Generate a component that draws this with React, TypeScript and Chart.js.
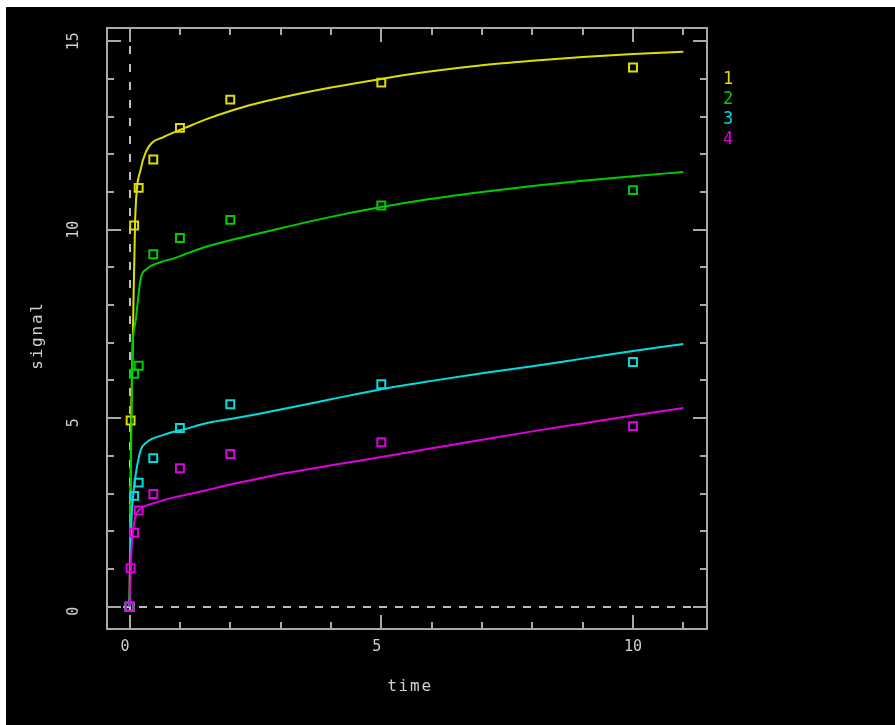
import React, { useEffect, useRef } from "react";
import { Chart, registerables } from "chart.js";

Chart.register(...registerables);

// ---------- data ----------
const seriesNames = ["1", "2", "3", "4"];
const seriesColors = ["#dede00", "#00cd00", "#00dede", "#de00de"];

const obsTime = [0, 0.02, 0.09, 0.18, 0.47, 1, 2, 5, 10];
const obs1 = [0, 4.94, 10.11, 11.11, 11.86, 12.7, 13.45, 13.9, 14.3];
const obs2 = [0, null, 6.18, 6.39, 9.35, 9.78, 10.26, 10.64, 11.05];
const obs3 = [0, null, 2.94, 3.29, 3.94, 4.74, 5.37, 5.9, 6.49];
const obs4 = [0, 1.02, 1.96, 2.55, 2.99, 3.67, 4.05, 4.36, 4.79];

const fitTime = [0, 0.03, 0.06, 0.11, 0.22, 0.33, 0.44, 0.66, 0.88, 1.1, 1.5, 2, 2.5, 3, 4, 5, 6, 7, 8, 9, 10, 11];
const fit1 = [0, 4.9, 6.8, 10.26, 11.6, 12.08, 12.3, 12.45, 12.58, 12.7, 12.92, 13.15, 13.34, 13.5, 13.77, 14.0, 14.2, 14.36, 14.48, 14.58, 14.66, 14.72];
const fit2 = [0, 4.2, 6.9, 7.5, 8.7, 8.95, 9.05, 9.16, 9.24, 9.35, 9.54, 9.72, 9.88, 10.04, 10.34, 10.6, 10.82, 11.0, 11.16, 11.3, 11.42, 11.53];
const fit3 = [0, 2.1, 2.8, 3.4, 4.15, 4.35, 4.45, 4.55, 4.64, 4.71, 4.86, 4.98, 5.1, 5.23, 5.5, 5.77, 5.99, 6.19, 6.38, 6.58, 6.78, 6.97];
const fit4 = [0, 1.3, 1.9, 2.35, 2.6, 2.68, 2.73, 2.82, 2.9, 2.96, 3.08, 3.24, 3.38, 3.52, 3.75, 3.97, 4.2, 4.43, 4.65, 4.86, 5.07, 5.27];

const xTicks = [0, 1, 2, 3, 4, 5, 6, 7, 8, 9, 10, 11];
const yTicks = [0, 1, 2, 3, 4, 5, 6, 7, 8, 9, 10, 11, 12, 13, 14, 15];
const xTickLabels = [0, 5, 10];
const yTickLabels = [0, 5, 10, 15];
const xTitle = "time";
const yTitle = "signal";

const xRange = [-0.449, 11.47];
const yRange = [-0.592, 15.35];

// ---------- styles ----------
const frameColor = "#a9a9a9";
const dashColor = "#bdbdbd";
const textColor = "#cfcfcf";
const monoFont = "'DejaVu Sans Mono', 'Liberation Mono', monospace";

const toPoints = (xs: number[], ys: (number | null)[]) =>
  xs.map((x, i) => ({ x, y: ys[i] })).filter((p) => p.y !== null);

const decorPlugin = {
  id: "decor",
  beforeDraw(chart: any) {
    const { ctx, width, height } = chart;
    ctx.save();
    ctx.fillStyle = "#000";
    ctx.fillRect(0, 0, width, height);
    ctx.restore();
  },
  beforeDatasetsDraw(chart: any) {
    const { ctx, chartArea: a, scales } = chart;
    const x0 = Math.round(scales.x.getPixelForValue(0));
    const y0 = Math.round(scales.y.getPixelForValue(0));
    ctx.save();
    ctx.strokeStyle = dashColor;
    ctx.lineWidth = 2;
    ctx.setLineDash([8, 8]);
    ctx.beginPath();
    ctx.moveTo(a.left, y0);
    ctx.lineTo(a.right, y0);
    ctx.stroke();
    ctx.setLineDash([8, 10]);
    ctx.beginPath();
    ctx.moveTo(x0, a.top);
    ctx.lineTo(x0, a.bottom);
    ctx.stroke();
    ctx.restore();
  },
  afterDraw(chart: any) {
    const { ctx, chartArea: a, scales } = chart;
    const xs = scales.x;
    const ys = scales.y;
    ctx.save();
    // frame
    ctx.strokeStyle = frameColor;
    ctx.lineWidth = 2;
    ctx.setLineDash([]);
    ctx.strokeRect(a.left, a.top, a.right - a.left, a.bottom - a.top);
    // ticks
    ctx.beginPath();
    xTicks.forEach((v) => {
      const px = Math.round(xs.getPixelForValue(v));
      const len = v % 5 === 0 ? 14 : 7;
      ctx.moveTo(px, a.bottom);
      ctx.lineTo(px, a.bottom - len);
      ctx.moveTo(px, a.top);
      ctx.lineTo(px, a.top + len);
    });
    yTicks.forEach((v) => {
      const py = Math.round(ys.getPixelForValue(v));
      const len = v % 5 === 0 ? 14 : 7;
      ctx.moveTo(a.left, py);
      ctx.lineTo(a.left + len, py);
      ctx.moveTo(a.right, py);
      ctx.lineTo(a.right - len, py);
    });
    ctx.stroke();

    // tick labels
    ctx.fillStyle = textColor;
    ctx.font = `15px ${monoFont}`;
    ctx.textAlign = "center";
    ctx.textBaseline = "middle";
    xTickLabels.forEach((v) => {
      const s = String(v).padEnd(2, " ");
      ctx.fillText(s, xs.getPixelForValue(v), a.bottom + 18);
    });
    yTickLabels.forEach((v) => {
      const s = String(v).padEnd(2, " ");
      ctx.save();
      ctx.translate(a.left - 33, ys.getPixelForValue(v));
      ctx.rotate(-Math.PI / 2);
      ctx.fillText(s, 0, 0);
      ctx.restore();
    });

    // axis titles
    ctx.font = `16px ${monoFont}`;
    (ctx as any).letterSpacing = "1.8px";
    ctx.fillText(xTitle, (a.left + a.right) / 2 + 3, a.bottom + 58);
    ctx.save();
    ctx.translate(a.left - 69, (a.top + a.bottom) / 2 + 7);
    ctx.rotate(-Math.PI / 2);
    ctx.fillText(yTitle, 0, 0);
    ctx.restore();
    (ctx as any).letterSpacing = "0px";

    // legend
    ctx.font = `17px ${monoFont}`;
    seriesNames.forEach((n, i) => {
      ctx.fillStyle = seriesColors[i];
      ctx.fillText(n, a.right + 21, a.top + 52 + i * 20);
    });
    ctx.restore();
  },
};

export default function App() {
  const ref = useRef<HTMLCanvasElement | null>(null);

  useEffect(() => {
    if (!ref.current) return;
    const fits = [fit1, fit2, fit3, fit4];
    const obs = [obs1, obs2, obs3, obs4];
    const datasets: any[] = [];
    seriesNames.forEach((name, i) => {
      datasets.push({
        label: `fit ${name}`,
        data: toPoints(fitTime, fits[i]),
        showLine: true,
        borderColor: seriesColors[i],
        borderWidth: 2,
        pointRadius: 0,
        cubicInterpolationMode: "monotone",
        fill: false,
      });
      datasets.push({
        label: name,
        data: toPoints(obsTime, obs[i]),
        showLine: false,
        pointStyle: "rect",
        pointRadius: 5.6,
        pointBorderWidth: 2,
        pointBorderColor: seriesColors[i],
        pointBackgroundColor: "transparent",
        borderColor: seriesColors[i],
        backgroundColor: "transparent",
      });
    });
    datasets.forEach((d, i) => (d.order = datasets.length - i));

    const chart = new Chart(ref.current, {
      type: "scatter",
      data: { datasets },
      options: {
        responsive: false,
        animation: false,
        devicePixelRatio: 1,
        layout: { padding: { left: 101, right: 188, top: 21, bottom: 96 } },
        plugins: { legend: { display: false }, tooltip: { enabled: false } },
        scales: {
          x: { type: "linear", min: xRange[0], max: xRange[1], display: false },
          y: { type: "linear", min: yRange[0], max: yRange[1], display: false },
        },
      },
      plugins: [decorPlugin],
    } as any);
    return () => chart.destroy();
  }, []);

  return (
    <div style={{ position: "fixed", left: 6, top: 7, width: 889, height: 718 }}>
      <canvas ref={ref} width={889} height={718} style={{ display: "block" }} />
    </div>
  );
}
